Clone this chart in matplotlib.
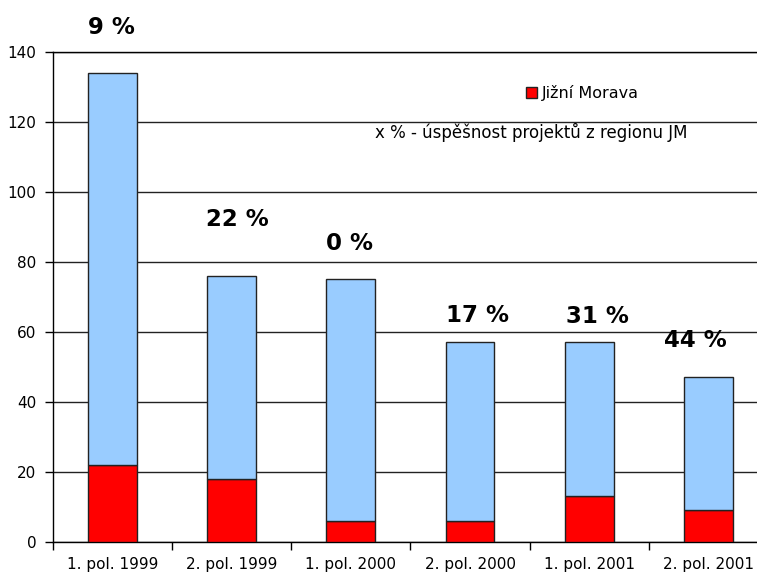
import numpy as np
import matplotlib
matplotlib.use('Agg')
import matplotlib.pyplot as plt
from matplotlib.ticker import FixedLocator, NullFormatter


# data
obdobi = ['1. pol. 1999', '2. pol. 1999', '1. pol. 2000',
          '2. pol. 2000', '1. pol. 2001', '2. pol. 2001']
celkem = [134, 76, 75, 57, 57, 47]          # all projects
jizni_morava = [22, 18, 6, 6, 13, 9]       # projects from region JM
uspesnost = ['9 %', '22 %', '0 %', '17 %', '31 %', '44 %']

# where the percent labels sit (x offset from the bar, y in axis units)
label_dx = [-0.01, 0.05, -0.01, 0.06, 0.07, -0.11]
label_y = [147, 92, 85.4, 64.6, 64.3, 57.7]

ostatni = np.array(celkem) - np.array(jizni_morava)
x = np.arange(len(obdobi))

fig = plt.figure(figsize=(7.57, 5.77), dpi=100)
ax = fig.add_axes([0.070, 0.0607, 0.9445, 0.8492])

w = 0.41
ax.bar(x, jizni_morava, w, color='#FF0000', edgecolor='#222222',
       linewidth=1, label='Jižní Morava', zorder=3)
ax.bar(x, ostatni, w, bottom=jizni_morava, color='#99CCFF',
       edgecolor='#222222', linewidth=1, zorder=3)

ax.set_xlim(-0.5, len(obdobi) - 0.5)
ax.set_ylim(0, 140)
ax.set_yticks(np.arange(0, 141, 20))
ax.yaxis.grid(True, color='#222222', linewidth=1)
ax.set_axisbelow(True)

ax.set_xticks(x)
ax.set_xticklabels(obdobi)
ax.xaxis.set_minor_locator(FixedLocator(np.arange(-0.5, len(obdobi), 1)))
ax.xaxis.set_minor_formatter(NullFormatter())
ax.tick_params(axis='x', which='major', length=0, pad=11, labelsize=11)
ax.tick_params(axis='x', which='minor', length=6, width=1, direction='out')
ax.tick_params(axis='y', length=6, width=1, direction='out', pad=6,
               labelsize=11)

for s in ['left', 'bottom', 'top']:
    ax.spines[s].set_color('black')
    ax.spines[s].set_linewidth(1)
ax.spines['right'].set_visible(False)

for i in range(len(obdobi)):
    ax.text(x[i] + label_dx[i], label_y[i], uspesnost[i], ha='center',
            va='center', fontsize=16.5, fontweight='bold')

ax.legend(loc='center left', bbox_to_anchor=(0.652, 0.916), frameon=False,
          fontsize=11.5, handlelength=0.7, handleheight=0.7, handletextpad=0.3,
          borderaxespad=0)
ax.text(0.450, 0.836, 'x % - úspěšnost projektů z regionu JM',
        transform=ax.transAxes, fontsize=12, ha='left', va='center')

plt.savefig('out.png', dpi=100)
